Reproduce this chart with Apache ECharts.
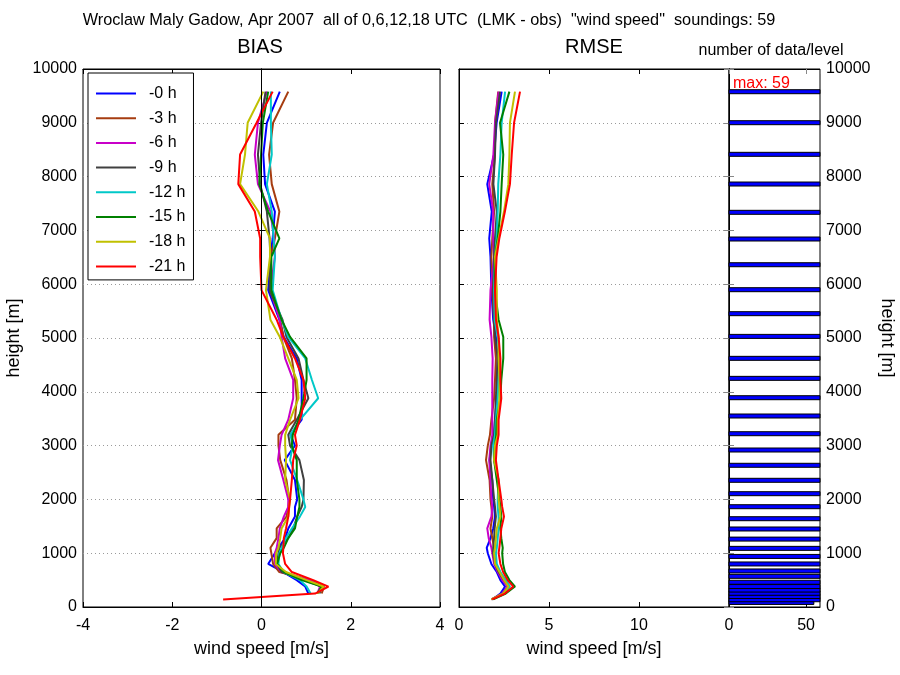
<!DOCTYPE html>
<html>
<head>
<meta charset="utf-8">
<script src="https://cdn.jsdelivr.net/npm/echarts@6/dist/echarts.min.js"></script>
<style>
html,body{margin:0;padding:0;background:#fff;}
#chart{width:900px;height:675px;}
</style>
</head>
<body>
<div id="chart"></div>
<script>
// ---------- DATA ----------
const seriesNames = ['-0 h', '-3 h', '-6 h', '-9 h', '-12 h', '-15 h', '-18 h', '-21 h'];
const seriesColors = ['#0000ff', '#a63c10', '#c800c8', '#404040', '#00c8c8', '#008000', '#c0c000', '#ff0000'];

// heights [m] at which the profiles are given
const heights = [140, 250, 380, 500, 650, 800, 1000, 1100, 1280, 1460, 1680, 1860, 2000, 2360, 2730, 3000, 3200, 3480, 3880, 4220, 4620, 5020, 5340, 5890, 6510, 6850, 7350, 7860, 8410, 9000, 9580];

// BIAS [m/s]
const bias_0h  = [null, 1.05, 0.98, 0.79, 0.49, 0.15, 0.30, 0.38, 0.53, 0.60, 0.75, 0.75, 0.80, 0.75, 0.52, 0.75, 0.65, 0.90, 0.90, 0.90, 0.79, 0.50, 0.40, 0.15, 0.20, 0.25, 0.30, 0.08, 0.04, 0.12, 0.41];
const bias_3h  = [null, 1.35, 1.40, 1.10, 0.40, 0.26, 0.22, 0.20, 0.34, 0.34, 0.56, 0.60, 0.62, 0.56, 0.42, 0.38, 0.38, 0.75, 0.79, 0.75, 0.68, 0.49, 0.42, 0.19, 0.20, 0.30, 0.40, 0.23, 0.17, 0.26, 0.60];
const bias_6h  = [null, 1.25, 1.31, 1.10, 0.45, 0.30, 0.30, 0.34, 0.38, 0.41, 0.50, 0.60, 0.60, 0.49, 0.37, 0.41, 0.45, 0.60, 0.71, 0.71, 0.53, 0.45, 0.41, 0.20, 0.30, 0.28, 0.20, -0.08, -0.15, -0.08, 0.12];
const bias_9h  = [null, 1.30, 1.35, 0.95, 0.45, 0.35, 0.38, 0.40, 0.60, 0.71, 0.80, 0.90, 0.94, 0.95, 0.85, 0.64, 0.60, 0.79, 1.05, 0.94, 0.83, 0.56, 0.47, 0.18, 0.20, 0.18, 0.12, -0.03, -0.08, -0.01, 0.09];
const bias_12h = [null, 1.10, 1.01, 0.86, 0.50, 0.38, 0.40, 0.45, 0.55, 0.68, 0.86, 0.98, 0.94, 0.80, 0.64, 0.70, 0.65, 0.86, 1.27, 1.13, 0.98, 0.60, 0.45, 0.25, 0.30, 0.27, 0.23, 0.12, 0.23, 0.21, 0.21];
const bias_15h = [null, 1.25, 1.35, 0.90, 0.50, 0.35, 0.42, 0.50, 0.60, 0.75, 0.80, 0.85, 0.85, 0.79, 0.79, 0.68, 0.70, 0.83, 0.94, 1.01, 1.01, 0.64, 0.45, 0.22, 0.22, 0.40, 0.15, -0.05, -0.01, 0.03, 0.15];
const bias_18h = [null, 1.25, 1.39, 1.01, 0.55, 0.32, 0.33, 0.38, 0.42, 0.45, 0.60, 0.62, 0.64, 0.53, 0.55, 0.53, 0.53, 0.64, 0.83, 0.79, 0.60, 0.41, 0.20, 0.10, 0.19, 0.19, -0.07, -0.48, -0.37, -0.31, 0.04];
const bias_21h = [-0.86, 1.20, 1.50, 1.16, 0.68, 0.53, 0.48, 0.49, 0.50, 0.55, 0.60, 0.62, 0.64, 0.68, 0.71, 0.79, 0.75, 0.86, 0.98, 0.94, 0.75, 0.49, 0.34, 0.00, -0.03, -0.03, -0.15, -0.52, -0.48, -0.11, 0.25];

// RMSE [m/s]
const rmse_0h  = [1.85, 2.30, 2.56, 2.30, 2.10, 1.80, 1.60, 1.54, 1.75, 1.90, 2.00, 1.95, 1.90, 1.85, 1.70, 1.80, 1.95, 2.00, 2.10, 2.10, 2.15, 2.05, 1.90, 1.80, 1.75, 1.68, 1.82, 1.57, 1.95, 2.09, 2.37];
const rmse_3h  = [1.80, 2.40, 2.70, 2.50, 2.20, 2.05, 1.95, 1.95, 1.85, 1.75, 1.85, 1.80, 1.75, 1.70, 1.50, 1.60, 1.72, 1.80, 1.95, 2.00, 2.05, 1.95, 1.95, 1.85, 1.80, 1.85, 1.95, 1.85, 2.00, 2.00, 2.18];
const rmse_6h  = [1.80, 2.40, 2.70, 2.40, 2.15, 1.95, 1.85, 1.80, 1.65, 1.57, 1.80, 1.85, 1.80, 1.75, 1.68, 1.75, 1.85, 1.85, 1.85, 1.85, 1.87, 1.80, 1.70, 1.75, 1.95, 1.90, 1.90, 1.68, 1.91, 2.00, 2.20];
const rmse_9h  = [1.85, 2.45, 2.80, 2.50, 2.20, 2.00, 1.90, 1.90, 1.95, 1.98, 2.05, 2.00, 1.95, 1.85, 1.75, 1.80, 1.95, 2.00, 2.05, 2.10, 2.15, 2.00, 1.95, 1.90, 1.95, 2.00, 2.10, 1.91, 2.00, 2.05, 2.28];
const rmse_12h = [1.85, 2.50, 2.83, 2.60, 2.30, 2.10, 2.05, 2.10, 2.15, 2.20, 2.20, 2.15, 2.15, 2.20, 1.95, 1.90, 2.00, 2.05, 2.15, 2.20, 2.25, 2.15, 1.98, 1.95, 2.00, 2.09, 2.15, 2.18, 2.30, 2.37, 2.56];
const rmse_15h = [1.90, 2.60, 3.11, 2.80, 2.55, 2.45, 2.40, 2.43, 2.35, 2.30, 2.35, 2.30, 2.25, 2.10, 1.95, 2.00, 2.07, 2.10, 2.30, 2.35, 2.46, 2.46, 2.20, 2.00, 2.00, 2.15, 2.30, 2.37, 2.46, 2.28, 2.80];
const rmse_18h = [1.80, 2.45, 2.75, 2.50, 2.25, 2.00, 1.95, 2.00, 2.05, 2.10, 2.30, 2.25, 2.20, 2.20, 1.95, 2.00, 2.15, 2.15, 2.25, 2.25, 2.20, 2.20, 2.10, 2.10, 2.00, 2.20, 2.50, 2.74, 2.80, 2.83, 3.11];
const rmse_21h = [1.85, 2.55, 3.02, 2.70, 2.45, 2.30, 2.20, 2.24, 2.30, 2.35, 2.50, 2.40, 2.35, 2.20, 2.05, 2.10, 2.20, 2.20, 2.35, 2.30, 2.30, 2.20, 2.05, 2.00, 2.09, 2.24, 2.55, 2.83, 2.93, 3.06, 3.39];

// number of data per level
const levelHeights = [85, 135, 195, 255, 315, 380, 460, 570, 670, 800, 940, 1090, 1262, 1450, 1641, 1864, 2106, 2355, 2634, 2918, 3221, 3550, 3890, 4250, 4622, 5030, 5452, 5898, 6362, 6840, 7336, 7862, 8414, 9002, 9578];
const levelCounts  = [55, 59, 59, 59, 59, 59, 59, 59, 59, 59, 59, 59, 59, 59, 59, 59, 59, 59, 59, 59, 59, 59, 59, 59, 59, 59, 59, 59, 59, 59, 59, 59, 59, 59, 59];

const heightTicks = [0, 1000, 2000, 3000, 4000, 5000, 6000, 7000, 8000, 9000, 10000];
const biasTicks = [-4, -2, 0, 2, 4];
const rmseTicks = [0, 5, 10];
const countTicks = [0, 50];

const biasData = [bias_0h, bias_3h, bias_6h, bias_9h, bias_12h, bias_15h, bias_18h, bias_21h];
const rmseData = [rmse_0h, rmse_3h, rmse_6h, rmse_9h, rmse_12h, rmse_15h, rmse_18h, rmse_21h];

// ---------- CHART ----------
const FONT = 'Liberation Sans';
const chart = echarts.init(document.getElementById('chart'), null, {renderer: 'canvas'});

const grids = [
  {left: 83, top: 69, width: 357, height: 538},
  {left: 459, top: 69, width: 270, height: 538},
  {left: 729, top: 69, width: 91, height: 538}
].map(g => Object.assign(g, {show: true, borderColor: '#000', borderWidth: 1, backgroundColor: 'transparent'}));

const tickLabel = {fontFamily: FONT, fontSize: 16, color: '#000'};
const nameStyle = {fontFamily: FONT, fontSize: 18, color: '#000'};
const dotted = {show: true, lineStyle: {color: '#9a9a9a', type: [1, 3], width: 1}};
const tickStyle = {show: true, inside: true, length: 5, lineStyle: {color: '#000'}};

function yAx(gi, opts) {
  return Object.assign({
    type: 'value', gridIndex: gi, min: 0, max: 10000, interval: 1000,
    axisLine: {show: true, lineStyle: {color: '#000'}},
    axisTick: tickStyle,
    axisLabel: {show: false},
    splitLine: {show: false}
  }, opts);
}
function xAx(gi, min, max, interval, opts) {
  return Object.assign({
    type: 'value', gridIndex: gi, min: min, max: max, interval: interval,
    axisLine: {show: true, onZero: false, lineStyle: {color: '#000'}},
    axisTick: tickStyle,
    axisLabel: {show: false},
    splitLine: {show: false}
  }, opts);
}
const tickFmt = arr => (v => arr.indexOf(v) >= 0 ? String(v) : '');
const titleText = (size, color) => ({fontFamily: FONT, fontSize: size, fontWeight: 'normal', color: color || '#000'});

const option = {
  animation: false,
  backgroundColor: '#fff',
  textStyle: {fontFamily: FONT},
  title: [
    {text: 'Wroclaw Maly Gadow, Apr 2007  all of 0,6,12,18 UTC  (LMK - obs)  "wind speed"  soundings: 59',
     left: 429, top: 13, padding: 0, textAlign: 'center', textStyle: titleText(16.3)},
    {text: 'BIAS', left: 260, top: 37, padding: 0, textAlign: 'center', textStyle: titleText(20)},
    {text: 'RMSE', left: 594, top: 37, padding: 0, textAlign: 'center', textStyle: titleText(20)},
    {text: 'number of data/level', left: 771, top: 43, padding: 0, textAlign: 'center', textStyle: titleText(16)},
    {text: 'max: 59', left: 733, top: 76, padding: 0, textStyle: titleText(16, '#ff0000')}
  ],
  legend: {
    data: seriesNames,
    orient: 'vertical',
    left: 88, top: 73,
    backgroundColor: '#fff',
    borderColor: '#000', borderWidth: 1,
    padding: [12, 8, 5, 8],
    itemWidth: 40, itemHeight: 2, itemGap: 7.7,
    icon: 'rect',
    textStyle: {fontFamily: FONT, fontSize: 16, color: '#000', lineHeight: 17, padding: [0, 0, 0, 8]}
  },
  grid: grids,
  xAxis: [
    xAx(0, -4, 4, 2, {name: 'wind speed [m/s]', nameLocation: 'middle', nameGap: 33, nameTextStyle: nameStyle,
      axisLabel: Object.assign({margin: 11, formatter: tickFmt(biasTicks)}, tickLabel)}),
    xAx(1, 0, 15, 5, {name: 'wind speed [m/s]', nameLocation: 'middle', nameGap: 33, nameTextStyle: nameStyle,
      axisLabel: Object.assign({margin: 11, formatter: tickFmt(rmseTicks)}, tickLabel)}),
    xAx(2, 0, 59, 50, {axisLabel: Object.assign({margin: 11, showMaxLabel: false, formatter: tickFmt(countTicks)}, tickLabel)}),
    // mirrored top axes (ticks only)
    xAx(0, -4, 4, 2, {position: 'top'}),
    xAx(1, 0, 15, 5, {position: 'top'}),
    xAx(2, 0, 59, 50, {position: 'top', axisTick: {show: true, inside: true, length: 5, lineStyle: {color: '#888'}}})
  ],
  yAxis: [
    yAx(0, {name: 'height [m]', nameLocation: 'middle', nameGap: 60, nameRotate: 90, nameTextStyle: nameStyle,
            axisLabel: Object.assign({show: true, margin: 6, formatter: tickFmt(heightTicks)}, tickLabel),
            splitLine: dotted}),
    yAx(1, {splitLine: dotted}),
    yAx(2, {position: 'right', name: 'height [m]', nameLocation: 'middle', nameGap: 58, nameRotate: -90, nameTextStyle: nameStyle,
            axisTick: {show: true, inside: true, length: 5, lineStyle: {color: '#888'}},
            axisLabel: Object.assign({show: true, margin: 6, formatter: tickFmt(heightTicks)}, tickLabel)}),
    // mirrored axes (ticks only)
    yAx(0, {position: 'right'}),
    yAx(2, {position: 'left', axisTick: {show: true, inside: true, length: 5, lineStyle: {color: '#888'}}})
  ],
  series: []
};

// BIAS lines
seriesNames.forEach((n, i) => {
  const s = {
    name: n, type: 'line', xAxisIndex: 0, yAxisIndex: 0,
    data: heights.map((h, k) => [biasData[i][k], h]).filter(p => p[0] !== null),
    showSymbol: false, symbol: 'none',
    lineStyle: {color: seriesColors[i], width: 2},
    itemStyle: {color: seriesColors[i]},
    z: 3
  };
  if (i === 0) {
    s.markLine = {silent: true, symbol: 'none', label: {show: false},
      lineStyle: {color: '#000', width: 1, type: 'solid'}, data: [{xAxis: 0}]};
  }
  option.series.push(s);
});
// RMSE lines
seriesNames.forEach((n, i) => {
  option.series.push({
    name: n, type: 'line', xAxisIndex: 1, yAxisIndex: 1,
    data: heights.map((h, k) => [rmseData[i][k], h]),
    showSymbol: false, symbol: 'none',
    lineStyle: {color: seriesColors[i], width: 2},
    itemStyle: {color: seriesColors[i]},
    z: 3
  });
});
// number of data per level
option.series.push({
  type: 'custom', xAxisIndex: 2, yAxisIndex: 2,
  data: levelHeights.map((h, k) => [levelCounts[k], h]),
  renderItem: function (params, api) {
    const n = api.value(0), h = api.value(1);
    const p0 = api.coord([0, h]);
    const p1 = api.coord([n, h]);
    return {type: 'rect',
      shape: {x: p0[0], y: p0[1] - 2, width: p1[0] - p0[0], height: 4},
      style: {fill: '#0000ff', stroke: '#000', lineWidth: 1}};
  },
  z: 2
});

chart.setOption(option);
</script>
</body>
</html>
